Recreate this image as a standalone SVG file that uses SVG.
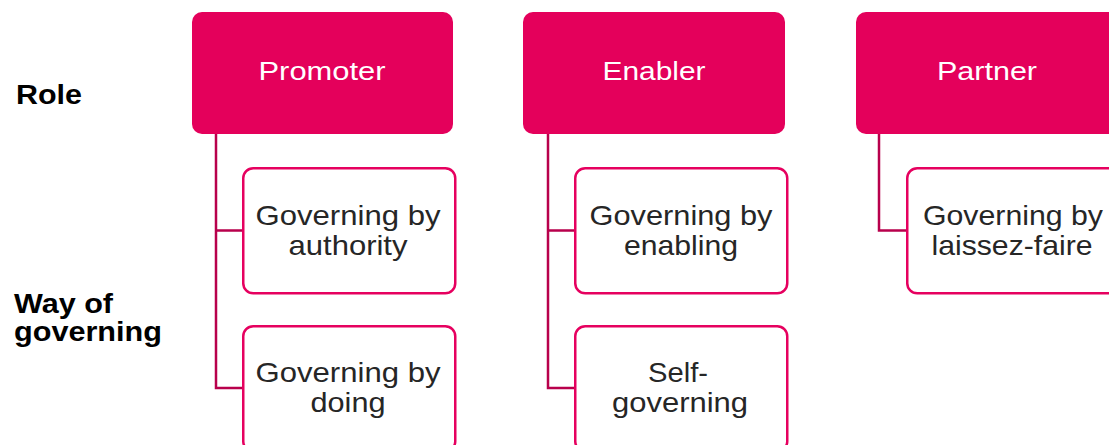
<svg xmlns="http://www.w3.org/2000/svg" width="1109" height="445" viewBox="0 0 1109 445">
  <style>
    .role { fill: #e4005b; }
    .way { fill: #ffffff; stroke: #e6005f; stroke-width: 2.5; }
    .link { fill: none; stroke: #b8004c; stroke-width: 2.5; }
    .rt { font-family: "Liberation Sans", Arial, sans-serif; font-size: 25px; fill: #ffffff; text-anchor: middle; }
    .wt { font-family: "Liberation Sans", Arial, sans-serif; font-size: 28px; fill: #262626; text-anchor: middle; }
    .lbl { font-family: "Liberation Sans", Arial, sans-serif; font-size: 27px; font-weight: bold; fill: #000000; }
  </style>
  <rect width="1109" height="445" fill="#ffffff"/>

  <!-- row labels -->
  <g id="label-role">
    <text class="lbl" x="16" y="104" textLength="66" lengthAdjust="spacingAndGlyphs">Role</text>
  </g>
  <g id="label-way">
    <text class="lbl" x="14" y="313" textLength="99" lengthAdjust="spacingAndGlyphs">Way of</text>
    <text class="lbl" x="14" y="341" textLength="148" lengthAdjust="spacingAndGlyphs">governing</text>
  </g>

  <!-- connectors -->
  <g id="connectors">
    <path class="link" d="M216 134 V388 H243 M216 230.5 H243"/>
    <path class="link" d="M548 134 V388 H575 M548 230.5 H575"/>
    <path class="link" d="M879 134 V230.5 H907"/>
  </g>

  <!-- role nodes -->
  <g id="promoter">
    <rect class="role" x="192" y="12" width="261" height="122" rx="10"/>
    <text class="rt" x="322" y="80" textLength="127" lengthAdjust="spacingAndGlyphs">Promoter</text>
  </g>
  <g id="enabler">
    <rect class="role" x="523" y="12" width="262" height="122" rx="10"/>
    <text class="rt" x="654" y="80" textLength="103" lengthAdjust="spacingAndGlyphs">Enabler</text>
  </g>
  <g id="partner">
    <rect class="role" x="856" y="12" width="262" height="122" rx="10"/>
    <text class="rt" x="987" y="80" textLength="100" lengthAdjust="spacingAndGlyphs">Partner</text>
  </g>

  <!-- ways of governing -->
  <g id="by-authority">
    <rect class="way" x="243.25" y="168.25" width="212" height="125" rx="10"/>
    <text class="wt" x="348" y="225" textLength="185" lengthAdjust="spacingAndGlyphs">Governing by</text>
    <text class="wt" x="348" y="255" textLength="119" lengthAdjust="spacingAndGlyphs">authority</text>
  </g>
  <g id="by-doing">
    <rect class="way" x="243.25" y="326.25" width="212" height="125" rx="10"/>
    <text class="wt" x="348" y="382" textLength="185" lengthAdjust="spacingAndGlyphs">Governing by</text>
    <text class="wt" x="348" y="412" textLength="75" lengthAdjust="spacingAndGlyphs">doing</text>
  </g>
  <g id="by-enabling">
    <rect class="way" x="575.25" y="168.25" width="212" height="125" rx="10"/>
    <text class="wt" x="681" y="225" textLength="183" lengthAdjust="spacingAndGlyphs">Governing by</text>
    <text class="wt" x="681" y="255" textLength="114" lengthAdjust="spacingAndGlyphs">enabling</text>
  </g>
  <g id="self-governing">
    <rect class="way" x="575.25" y="326.25" width="212" height="125" rx="10"/>
    <text class="wt" x="678" y="382" textLength="60" lengthAdjust="spacingAndGlyphs">Self-</text>
    <text class="wt" x="680" y="412" textLength="136" lengthAdjust="spacingAndGlyphs">governing</text>
  </g>
  <g id="by-laissez-faire">
    <rect class="way" x="907.25" y="168.25" width="212" height="125" rx="10"/>
    <text class="wt" x="1013" y="225" textLength="180" lengthAdjust="spacingAndGlyphs">Governing by</text>
    <text class="wt" x="1012" y="255" textLength="161" lengthAdjust="spacingAndGlyphs">laissez-faire</text>
  </g>
</svg>
